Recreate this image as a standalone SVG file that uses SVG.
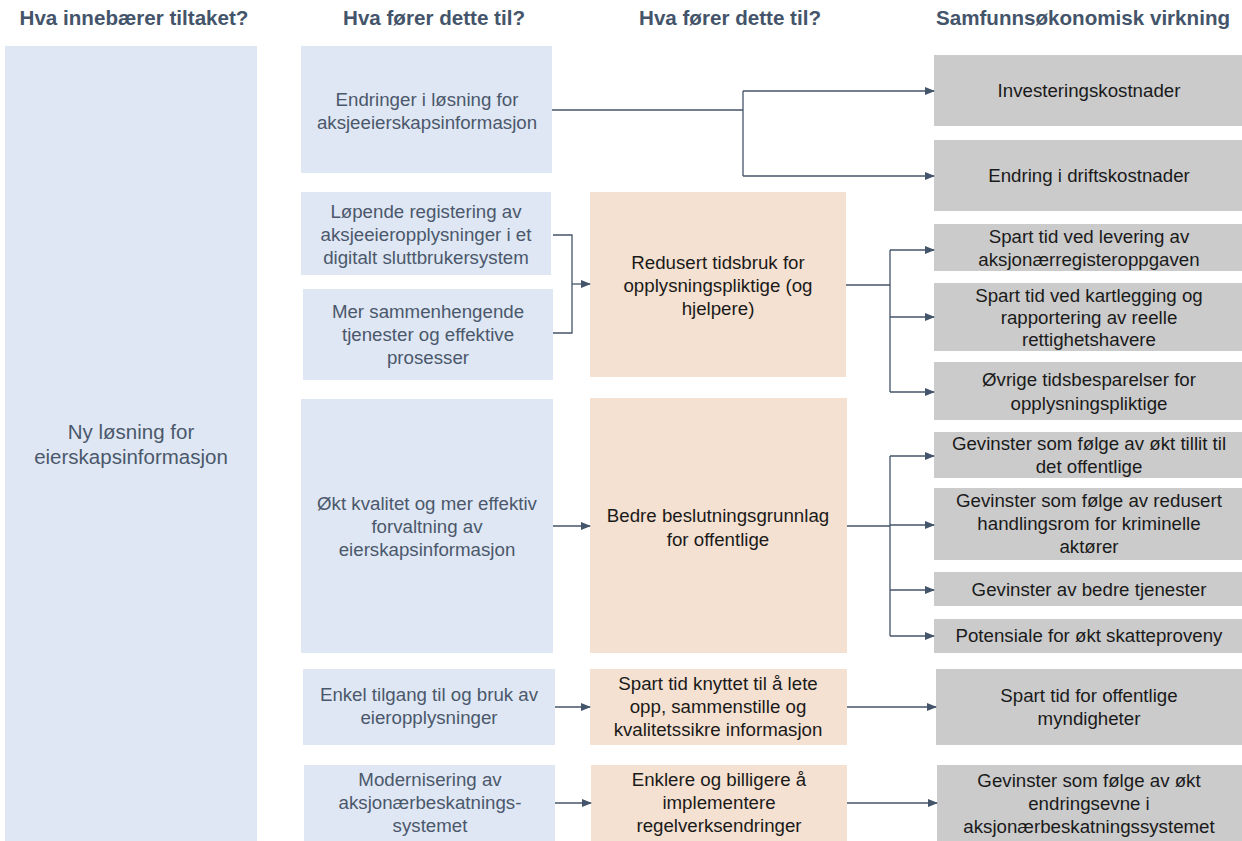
<svg xmlns="http://www.w3.org/2000/svg" width="1242" height="841" viewBox="0 0 1242 841">
<defs>
<marker id="arr" markerWidth="10" markerHeight="8" refX="9" refY="4" orient="auto" markerUnits="userSpaceOnUse">
<path d="M0,0 L10,4 L0,8 Z" fill="#44546A"/>
</marker>
<style>
.hdr{font-family:"Liberation Sans",Arial,sans-serif;font-weight:bold;font-size:20.6px;fill:#44546A;text-anchor:middle}
.t{font-family:"Liberation Sans",Arial,sans-serif;font-size:18.7px;text-anchor:middle}
.big{font-size:20.5px}
.bt{fill:#4B586B}
.dt{fill:#1A1A1A}
.blue{fill:#DFE7F4}
.peach{fill:#F5E1D1}
.gray{fill:#CBCBCB}
.c{fill:none;stroke:#44546A;stroke-width:1.3}
.a{fill:none;stroke:#44546A;stroke-width:1.3;marker-end:url(#arr)}
</style>
</defs>
<rect width="1242" height="841" fill="#FFFFFF"/>
<g id="headers">
<text class="hdr" x="134" y="25">Hva innebærer tiltaket?</text>
<text class="hdr" x="434" y="25">Hva fører dette til?</text>
<text class="hdr" x="730" y="25">Hva fører dette til?</text>
<text class="hdr" x="1083" y="25">Samfunnsøkonomisk virkning</text>
</g>
<g id="n-root"><rect class="blue" x="5" y="46" width="252" height="795"/>
<text class="t big bt" x="131" y="439">Ny løsning for</text><text class="t big bt" x="131" y="464">eierskapsinformasjon</text></g>

<g id="n-a"><rect class="blue" x="301" y="46" width="251" height="127"/>
<text class="t bt" x="427" y="106">Endringer i løsning for</text><text class="t bt" x="427" y="129">aksjeeierskapsinformasjon</text></g>
<g id="n-b"><rect class="blue" x="301" y="192" width="250" height="83"/>
<text class="t bt" x="426" y="218">Løpende registering av</text><text class="t bt" x="426" y="241">aksjeeieropplysninger i et</text><text class="t bt" x="426" y="264">digitalt sluttbrukersystem</text></g>
<g id="n-c"><rect class="blue" x="303" y="289" width="250" height="91"/>
<text class="t bt" x="428" y="318">Mer sammenhengende</text><text class="t bt" x="428" y="341">tjenester og effektive</text><text class="t bt" x="428" y="364">prosesser</text></g>
<g id="n-d"><rect class="blue" x="301" y="399" width="252" height="254"/>
<text class="t bt" x="427" y="510">Økt kvalitet og mer effektiv</text><text class="t bt" x="427" y="533">forvaltning av</text><text class="t bt" x="427" y="556">eierskapsinformasjon</text></g>
<g id="n-e"><rect class="blue" x="303" y="669" width="252" height="76"/>
<text class="t bt" x="429" y="701">Enkel tilgang til og bruk av</text><text class="t bt" x="429" y="724">eieropplysninger</text></g>
<g id="n-f"><rect class="blue" x="304" y="765" width="251" height="76"/>
<text class="t bt" x="430" y="786">Modernisering av</text><text class="t bt" x="430" y="809">aksjonærbeskatnings-</text><text class="t bt" x="430" y="832">systemet</text></g>

<g id="n-p1"><rect class="peach" x="590" y="192" width="256" height="185"/>
<text class="t dt" x="718" y="269">Redusert tidsbruk for</text><text class="t dt" x="718" y="292">opplysningspliktige (og</text><text class="t dt" x="718" y="315">hjelpere)</text></g>
<g id="n-p2"><rect class="peach" x="590" y="398" width="257" height="255"/>
<text class="t dt" x="718" y="522">Bedre beslutningsgrunnlag</text><text class="t dt" x="718" y="546">for offentlige</text></g>
<g id="n-p3"><rect class="peach" x="590" y="669" width="257" height="76"/>
<text class="t dt" x="718" y="690">Spart tid knyttet til å lete</text><text class="t dt" x="718" y="713">opp, sammenstille og</text><text class="t dt" x="718" y="736">kvalitetssikre informasjon</text></g>
<g id="n-p4"><rect class="peach" x="591" y="765" width="256" height="76"/>
<text class="t dt" x="719" y="786">Enklere og billigere å</text><text class="t dt" x="719" y="809">implementere</text><text class="t dt" x="719" y="832">regelverksendringer</text></g>

<g id="n-g1"><rect class="gray" x="934" y="55" width="308" height="71"/>
<text class="t dt" x="1089" y="97">Investeringskostnader</text></g>
<g id="n-g2"><rect class="gray" x="934" y="140" width="308" height="71"/>
<text class="t dt" x="1089" y="182">Endring i driftskostnader</text></g>
<g id="n-g3"><rect class="gray" x="934" y="224" width="308" height="47"/>
<text class="t dt" x="1089" y="243">Spart tid ved levering av</text><text class="t dt" x="1089" y="266">aksjonærregisteroppgaven</text></g>
<g id="n-g4"><rect class="gray" x="934" y="283" width="308" height="68"/>
<text class="t dt" x="1089" y="302">Spart tid ved kartlegging og</text><text class="t dt" x="1089" y="324">rapportering av reelle</text><text class="t dt" x="1089" y="346">rettighetshavere</text></g>
<g id="n-g5"><rect class="gray" x="934" y="362" width="308" height="58"/>
<text class="t dt" x="1089" y="386">Øvrige tidsbesparelser for</text><text class="t dt" x="1089" y="410">opplysningspliktige</text></g>
<g id="n-g6"><rect class="gray" x="934" y="432" width="308" height="46"/>
<text class="t dt" x="1089" y="450">Gevinster som følge av økt tillit til</text><text class="t dt" x="1089" y="473">det offentlige</text></g>
<g id="n-g7"><rect class="gray" x="934" y="488" width="308" height="72"/>
<text class="t dt" x="1089" y="507">Gevinster som følge av redusert</text><text class="t dt" x="1089" y="530">handlingsrom for kriminelle</text><text class="t dt" x="1089" y="553">aktører</text></g>
<g id="n-g8"><rect class="gray" x="934" y="572" width="308" height="34"/>
<text class="t dt" x="1089" y="596">Gevinster av bedre tjenester</text></g>
<g id="n-g9"><rect class="gray" x="934" y="619" width="308" height="34"/>
<text class="t dt" x="1089" y="642">Potensiale for økt skatteproveny</text></g>
<g id="n-g10"><rect class="gray" x="936" y="669" width="306" height="76"/>
<text class="t dt" x="1089" y="702">Spart tid for offentlige</text><text class="t dt" x="1089" y="725">myndigheter</text></g>
<g id="n-g11"><rect class="gray" x="937" y="765" width="305" height="76"/>
<text class="t dt" x="1089" y="787">Gevinster som følge av økt</text><text class="t dt" x="1089" y="810">endringsevne i</text><text class="t dt" x="1089" y="833">aksjonærbeskatningssystemet</text></g>

<g id="connectors">
<path class="c" d="M552,110 H743 M743,91 V176"/>
<path class="a" d="M743,91 H934"/>
<path class="a" d="M743,176 H934"/>
<path class="c" d="M553,235 H572 V333 H553"/>
<path class="a" d="M572,284 H590"/>
<path class="c" d="M846,285 H890 M890,250 V392"/>
<path class="a" d="M890,250 H934"/>
<path class="a" d="M890,317 H934"/>
<path class="a" d="M890,392 H934"/>
<path class="a" d="M553,526 H590"/>
<path class="c" d="M847,526 H890 M890,456 V636"/>
<path class="a" d="M890,456 H934"/>
<path class="a" d="M890,525 H934"/>
<path class="a" d="M890,590 H934"/>
<path class="a" d="M890,636 H934"/>
<path class="a" d="M555,707 H590"/>
<path class="a" d="M847,707 H936"/>
<path class="a" d="M555,803 H591"/>
<path class="a" d="M847,803 H937"/>
</g>
</svg>
